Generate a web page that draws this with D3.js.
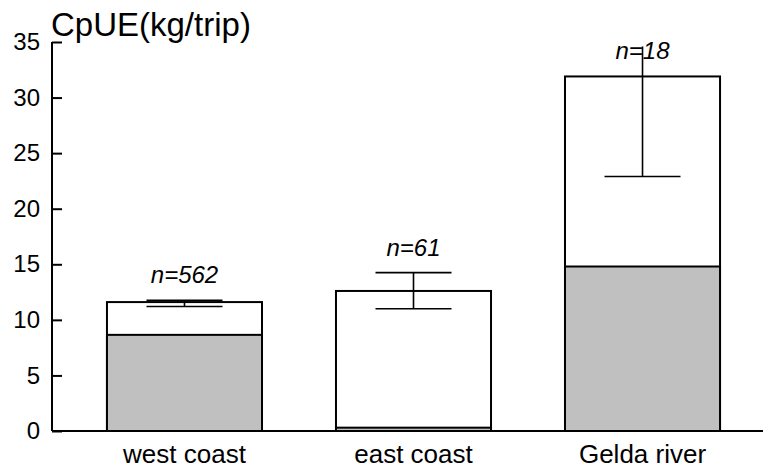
<!DOCTYPE html>
<html>
<head>
<meta charset="utf-8">
<script src="https://cdnjs.cloudflare.com/ajax/libs/d3/7.8.5/d3.min.js"></script>
<style>
  body { margin: 0; background: #fff; }
  svg text { font-family: "Liberation Sans", Arial, sans-serif; fill: #000; }
</style>
</head>
<body>
<svg width="763" height="468"></svg>
<script>
// data
var sites = ["west coast", "east coast", "Gelda river"];
var nLabels = ["n=562", "n=61", "n=18"];
var totalCpue = [11.6, 12.6, 31.9];     // white bar top
var greyPart = [8.65, 0.3, 14.8];       // grey lower portion
var errUpper = [11.75, 14.25, 40.9];
var errLower = [11.2, 11.0, 22.9];
var yTicks = [0, 5, 10, 15, 20, 25, 30, 35];

var svg = d3.select("svg");
var yClip = 34.6; // error bars going past this are cut, no cap

var x = d3.scaleBand().domain(sites).range([52, 775]).paddingInner(0.323).paddingOuter(0.24);
var y = d3.scaleLinear().domain([0, 35]).range([431, 42]);

var g = svg.append("g");

// bars: white full bar then grey bottom part
g.selectAll(".bar")
  .data(sites)
  .enter().append("rect")
  .attr("class", "bar")
  .attr("x", function(d) { return x(d); })
  .attr("y", function(d, i) { return y(totalCpue[i]); })
  .attr("width", x.bandwidth())
  .attr("height", function(d, i) { return y(0) - y(totalCpue[i]); })
  .attr("fill", "#fff")
  .attr("stroke", "#000")
  .attr("stroke-width", 2);

g.selectAll(".grey")
  .data(sites)
  .enter().append("rect")
  .attr("class", "grey")
  .attr("x", function(d) { return x(d); })
  .attr("y", function(d, i) { return y(greyPart[i]); })
  .attr("width", x.bandwidth())
  .attr("height", function(d, i) { return y(0) - y(greyPart[i]); })
  .attr("fill", "#c0c0c0")
  .attr("stroke", "#000")
  .attr("stroke-width", 2);

// error bars
var capHalf = 38;
sites.forEach(function(d, i) {
  var cx = x(d) + x.bandwidth() / 2;
  var up = Math.min(errUpper[i], yClip);
  g.append("line")
    .attr("x1", cx).attr("x2", cx)
    .attr("y1", y(errLower[i])).attr("y2", y(up))
    .attr("stroke", "#000").attr("stroke-width", 1.6);
  g.append("line")
    .attr("x1", cx - capHalf).attr("x2", cx + capHalf)
    .attr("y1", y(errLower[i])).attr("y2", y(errLower[i]))
    .attr("stroke", "#000").attr("stroke-width", 1.6);
  var topV = totalCpue[i];
  if (errUpper[i] <= yClip) {
    g.append("line")
      .attr("x1", cx - capHalf).attr("x2", cx + capHalf)
      .attr("y1", y(errUpper[i])).attr("y2", y(errUpper[i]))
      .attr("stroke", "#000").attr("stroke-width", 1.6);
    topV = Math.max(topV, errUpper[i]);
  }
  g.append("text")
    .attr("x", cx)
    .attr("y", y(topV) - 17)
    .attr("text-anchor", "middle")
    .attr("font-size", "24px")
    .attr("font-style", "italic")
    .text(nLabels[i]);
});

// y axis, ticks pointing inward
var yAxis = svg.append("g")
  .attr("transform", "translate(52,0)")
  .call(d3.axisRight(y).tickValues(yTicks).tickSize(10).tickFormat(function(d) { return d; }));
yAxis.select(".domain").remove();
yAxis.selectAll(".tick line").attr("stroke", "#000").attr("stroke-width", 2);
yAxis.selectAll(".tick text")
  .attr("x", -12)
  .attr("text-anchor", "end")
  .attr("font-size", "24px")
  .attr("font-family", "Liberation Sans, Arial, sans-serif");
svg.append("line")
  .attr("x1", 52).attr("x2", 52)
  .attr("y1", y(35)).attr("y2", y(0))
  .attr("stroke", "#000").attr("stroke-width", 2);

// baseline
svg.append("line")
  .attr("x1", 52).attr("x2", 763)
  .attr("y1", y(0)).attr("y2", y(0))
  .attr("stroke", "#000").attr("stroke-width", 2);

// x labels
svg.selectAll(".xlab")
  .data(sites)
  .enter().append("text")
  .attr("class", "xlab")
  .attr("x", function(d) { return x(d) + x.bandwidth() / 2; })
  .attr("y", 463)
  .attr("text-anchor", "middle")
  .attr("font-size", "26px")
  .text(function(d) { return d; });

// title
svg.append("text")
  .attr("x", 51)
  .attr("y", 36)
  .attr("font-size", "33px")
  .text("CpUE(kg/trip)");
</script>
</body>
</html>
